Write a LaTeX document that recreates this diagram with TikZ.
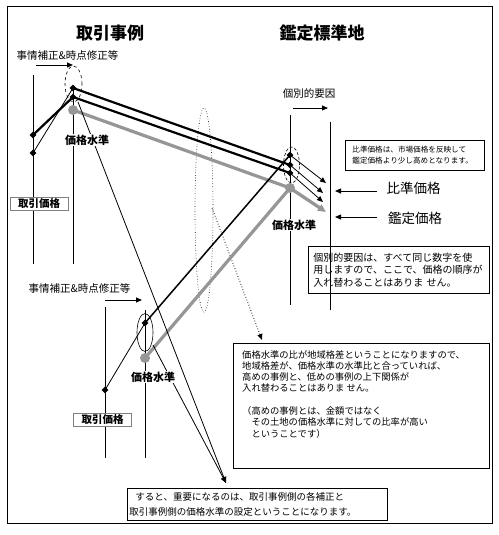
\documentclass[tikz,border=0pt]{standalone}
\usepackage{fontspec}
\setmainfont{Noto Sans CJK JP}
\usetikzlibrary{shapes.geometric,arrows.meta}
\definecolor{lg}{RGB}{150,150,150}
\begin{document}
\begin{tikzpicture}[x=1pt,y=-1pt,
  tk/.style={line width=2.2pt},
  tg/.style={line width=3.2pt, draw=lg},
  tn/.style={line width=0.8pt},
  tm/.style={line width=1.5pt},
  tip/.style={-{Triangle[length=6pt,width=5pt]}},
  kd/.style={diamond, fill=black, inner sep=0pt, minimum size=7pt},
  gd/.style={circle, fill=lg, inner sep=0pt, minimum size=10pt},
  lvl/.style={font=\bfseries\fontsize{11}{11}\selectfont, fill=white, inner sep=1pt},
  ttl/.style={font=\bfseries\fontsize{17}{17}\selectfont, inner sep=0pt},
  lab/.style={font=\fontsize{10.5}{10.5}\selectfont, inner sep=0pt},
  big/.style={font=\fontsize{13.5}{13.5}\selectfont, inner sep=0pt},
  pbox/.style={draw=gray, line width=0.8pt, fill=white, minimum width=58pt, minimum height=13pt, inner sep=0pt, font=\bfseries\fontsize{10.5}{10.5}\selectfont},
  tbox/.style={draw, line width=0.8pt, anchor=north west, inner ysep=0pt, align=left},
  ell/.style={ellipse, draw, line width=0.6pt, inner sep=0pt}
]
\useasboundingbox (0,0) rectangle (498,535);
\fill[white] (0,0) rectangle (498,535);
\draw[line width=0.8pt] (7,6) rectangle (492,523);

% titles
\node[ttl] (t1) at (110,33) {取引事例};
\node[ttl] (t2) at (322,33) {鑑定標準地};

% dotted ellipse and dotted arrow
\node[ell, dotted, minimum width=18pt, minimum height=204pt] (de) at (204,210) {};
\coordinate (ds) at (212,208);
\coordinate (dt) at (262,340);
\draw[tn, dotted, tip] (ds) -- (dt);

% points
\coordinate (d1a) at (73,88);
\coordinate (d1b) at (73,97);
\coordinate (g1) at (73,110);
\coordinate (l1a) at (33,135);
\coordinate (l1b) at (33,153);
\coordinate (r1) at (290,155);
\coordinate (r2) at (290,165);
\coordinate (r3) at (290,173);
\coordinate (rg) at (290,188);
\coordinate (d3) at (145,323);
\coordinate (g3) at (145,358);
\coordinate (ld) at (105,390);
\coordinate (a1) at (326,183);
\coordinate (a2) at (323,193);
\coordinate (a3) at (323,202);
\coordinate (ag) at (326,212);
\coordinate (s1) at (78,102);
\coordinate (s2) at (153,345);
\coordinate (tp) at (226,483);

% vertical axes
\draw[tn] (33,75) -- (33,264);
\draw[tn] (73,88) -- (73,264);
\draw[tn] (290,115) -- (290,305);
\draw[tn] (330,122) -- (330,310);
\draw[tn] (105,307) -- (105,458);
\draw[tn] (145,310) -- (145,458);

% ellipses
\node[ell, dashed, minimum width=17pt, minimum height=36pt] (e1) at (73.5,84) {};
\node[ell, densely dashed, minimum width=16pt, minimum height=36pt] (e2) at (291.5,165) {};
\node[ell, minimum width=16pt, minimum height=38pt] (e3) at (145,332.5) {};

% main lines
\draw[tg] (g1) -- (rg);
\draw[tg] (g3) -- (rg);
\draw[tk] (l1a) -- (d1b);
\draw[tn] (l1b) -- (d1a);
\draw[tk] (d1a) -- (r2);
\draw[tk] (d1b) -- (r3);
\draw[tn] (ld) -- (d3);
\draw[tm] (d3) -- (r1);
\draw[tn, tip] (r1) -- (a1);
\draw[tn, tip] (r2) -- (a2);
\draw[tn, tip] (r3) -- (a3);
\draw[tg, -{Triangle[length=8pt,width=7pt]}] (rg) -- (ag);

% long arrows to bottom box
\draw[tn, tip] (s1) -- (tp);
\draw[tn, tip] (s2) -- (tp);

% dots
\node[kd] (k1) at (d1a) {};
\node[kd] (k2) at (d1b) {};
\node[gd] (k3) at (g1) {};
\node[kd] (k4) at (l1a) {};
\node[kd] (k5) at (l1b) {};
\node[kd] (k6) at (r1) {};
\node[kd] (k7) at (r2) {};
\node[kd] (k8) at (r3) {};
\node[gd] (k9) at (rg) {};
\node[kd] (k10) at (d3) {};
\node[gd] (k11) at (g3) {};
\node[kd] (k12) at (ld) {};

% small labels and arrows
\node[lab] (h1) at (67.5,55) {事情補正\&時点修正等};
\draw[tn, tip] (36,65) -- (73,65);
\node[lab] (h2) at (79.5,288) {事情補正\&時点修正等};
\draw[tn, tip] (105,300) -- (142,300);
\node[lab] (kb) at (309,93) {個別的要因};
\draw[tn, tip] (293,108) -- (328,108);

\node[lvl] (p1) at (87,140) {価格水準};
\node[lvl] (p2) at (294,225) {価格水準};
\node[lvl] (p3) at (153,377) {価格水準};

\node[pbox] (tb1) at (39,203.5) {取引価格};
\node[pbox] (tb2) at (102.5,419.5) {取引価格};

\node[big] (hj) at (413.5,188) {比準価格};
\node[big] (kt) at (415,218) {鑑定価格};
\draw[tn, tip] (377,191) -- (335,191);
\draw[tn, tip] (377,217) -- (335,217);

% text boxes
\node[tbox, inner xsep=7pt, text width=125pt, minimum height=30pt, font=\fontsize{7.6}{11}\selectfont] (b1) at (345,140)
  {比準価格は、市場価格を反映して\\鑑定価格より少し高めとなります。};
\node[tbox, inner xsep=5pt, text width=171pt, minimum height=47pt, font=\fontsize{10}{12.5}\selectfont] (b2) at (308,246)
  {個別的要因は、すべて同じ数字を使\\用しますので、ここで、価格の順序が\\入れ替わることはありま せん。};
\node[draw, line width=0.8pt, anchor=north west, minimum width=256pt, minimum height=125pt, inner sep=0pt] (b3) at (233,343) {};
\node[anchor=north west, inner sep=0pt, align=left, font=\fontsize{9.3}{11.3}\selectfont] (b3t) at (242,350)
  {価格水準の比が地域格差ということになりますので、\\地域格差が、価格水準の水準比と合っていれば、\\高めの事例と、低めの事例の上下関係が\\入れ替わることはありま せん。\\[11.3pt]（高めの事例とは、金額ではなく\\　その土地の価格水準に対しての比率が高い\\　ということです）};
\node[tbox, inner xsep=2pt, text width=256pt, minimum height=32pt, font=\fontsize{9.5}{14.5}\selectfont] (b4) at (127,488)
  {\hspace*{6pt}すると、重要になるのは、取引事例側の各補正と\\取引事例側の価格水準の設定ということになります。};
\end{tikzpicture}
\end{document}
